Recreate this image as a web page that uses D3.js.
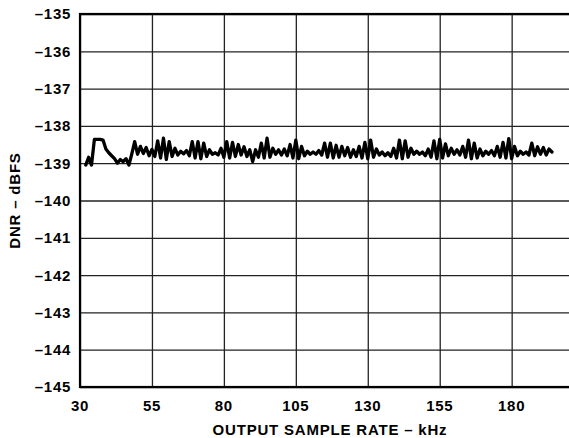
<!DOCTYPE html>
<html>
<head>
<meta charset="utf-8">
<script src="https://cdn.jsdelivr.net/npm/d3@7"></script>
<style>
  html, body { margin: 0; padding: 0; background: #fff; }
  svg { display: block; }
  text { font-family: "Liberation Sans", Arial, Helvetica, sans-serif; font-weight: bold; fill: #000; }
</style>
</head>
<body>
<svg id="chart" width="569" height="438"></svg>
<script>
// ---- data ----
const xTicks = [30, 55, 80, 105, 130, 155, 180];
const yTicks = [-145, -144, -143, -142, -141, -140, -139, -138, -137, -136, -135];
const xTitle = "OUTPUT SAMPLE RATE – kHz";
const yTitle = "DNR – dBFS";

const sampleRate = [
  32, 33, 34, 35, 36, 37, 38, 39, 40, 41, 42, 43, 44, 45, 46, 47, 48, 49, 50, 51,
  52, 53, 54, 55, 56, 57, 58, 59, 60, 61, 62, 63, 64, 65, 66, 67, 68, 69, 70, 71,
  72, 73, 74, 75, 76, 77, 78, 79, 80, 81, 82, 83, 84, 85, 86, 87, 88, 89, 90, 91,
  92, 93, 94, 95, 96, 97, 98, 99, 100, 101, 102, 103, 104, 105, 106, 107, 108, 109, 110, 111,
  112, 113, 114, 115, 116, 117, 118, 119, 120, 121, 122, 123, 124, 125, 126, 127, 128, 129, 130, 131,
  132, 133, 134, 135, 136, 137, 138, 139, 140, 141, 142, 143, 144, 145, 146, 147, 148, 149, 150, 151,
  152, 153, 154, 155, 156, 157, 158, 159, 160, 161, 162, 163, 164, 165, 166, 167, 168, 169, 170, 171,
  172, 173, 174, 175, 176, 177, 178, 179, 180, 181, 182, 183, 184, 185, 186, 187, 188, 189, 190, 191,
  192, 193, 194
];
const dnr = [
  -139.05, -138.84, -139.05, -138.36, -138.36, -138.36, -138.38, -138.62, -138.72, -138.80,
  -138.88, -139.00, -138.90, -138.96, -138.88, -139.05, -138.75, -138.42, -138.76, -138.55,
  -138.74, -138.58, -138.80, -138.63, -138.82, -138.40, -138.86, -138.33, -138.90, -138.42,
  -138.82, -138.60, -138.78, -138.68, -138.75, -138.66, -138.80, -138.42, -138.86, -138.42,
  -138.88, -138.46, -138.82, -138.64, -138.76, -138.72, -138.78, -138.60, -138.84, -138.42,
  -138.86, -138.44, -138.82, -138.50, -138.78, -138.56, -138.82, -138.64, -138.96, -138.64,
  -138.84, -138.46, -138.86, -138.33, -138.84, -138.60, -138.76, -138.64, -138.78, -138.62,
  -138.80, -138.50, -138.86, -138.38, -138.88, -138.55, -138.80, -138.68, -138.76, -138.70,
  -138.76, -138.66, -138.78, -138.46, -138.84, -138.46, -138.86, -138.52, -138.84, -138.55,
  -138.80, -138.58, -138.84, -138.64, -138.82, -138.55, -138.86, -138.44, -138.88, -138.38,
  -138.84, -138.62, -138.78, -138.70, -138.80, -138.72, -138.82, -138.60, -138.86, -138.38,
  -138.88, -138.40, -138.84, -138.60, -138.76, -138.68, -138.76, -138.70, -138.80, -138.62,
  -138.84, -138.40, -138.88, -138.36, -138.86, -138.48, -138.80, -138.60, -138.76, -138.64,
  -138.78, -138.55, -138.84, -138.38, -138.88, -138.46, -138.86, -138.62, -138.80, -138.68,
  -138.76, -138.66, -138.80, -138.55, -138.84, -138.44, -138.86, -138.34, -138.88, -138.55,
  -138.80, -138.68, -138.76, -138.70, -138.78, -138.46, -138.80, -138.56, -138.76, -138.58,
  -138.78, -138.62, -138.70
];

// ---- layout ----
const svg = d3.select("#chart");
const W = 569, H = 438;
const mLeft = 80, mTop = 14, mBottom = 387, mRight = 583.6;

const x = d3.scaleLinear().domain([30, 205]).range([mLeft, mRight]);
const y = d3.scaleLinear().domain([-145, -135]).range([mBottom, mTop]);

svg.append("rect").attr("width", W).attr("height", H).attr("fill", "#fff");

// grid
const gx = svg.append("g").attr("transform", `translate(0,${mBottom})`)
  .call(d3.axisBottom(x).tickValues(xTicks.concat([205])).tickSize(-(mBottom - mTop)).tickFormat(""));
gx.select(".domain").remove();
gx.selectAll("line").attr("stroke", "#222").attr("stroke-width", 1.3);

const gy = svg.append("g").attr("transform", `translate(${mLeft},0)`)
  .call(d3.axisLeft(y).tickValues(yTicks).tickSize(-(mRight - mLeft)).tickFormat(""));
gy.select(".domain").remove();
gy.selectAll("line").attr("stroke", "#222").attr("stroke-width", 1.3);

// frame
svg.append("rect")
  .attr("x", mLeft).attr("y", mTop)
  .attr("width", mRight - mLeft).attr("height", mBottom - mTop)
  .attr("fill", "none").attr("stroke", "#000").attr("stroke-width", 2.2);

// tick labels
svg.append("g").selectAll("text").data(yTicks).join("text")
  .attr("x", 71).attr("y", d => y(d)).attr("dy", "0.36em")
  .attr("text-anchor", "end").attr("font-size", 15).attr("letter-spacing", 0.7)
  .text(d => "\u2013" + Math.abs(d));

svg.append("g").selectAll("text").data(xTicks).join("text")
  .attr("x", d => x(d)).attr("y", 411)
  .attr("text-anchor", "middle").attr("font-size", 15).attr("letter-spacing", 0.7)
  .text(d => d);

// axis titles
svg.append("text").attr("x", 330).attr("y", 435)
  .attr("text-anchor", "middle").attr("font-size", 15).attr("letter-spacing", 0.8).text(xTitle);
svg.append("text")
  .attr("transform", `translate(20,${(mTop + mBottom) / 2}) rotate(-90)`)
  .attr("text-anchor", "middle").attr("font-size", 15).attr("letter-spacing", 0.8).text(yTitle);

// data line
const pts = sampleRate.map((r, i) => [r, dnr[i]]);
svg.append("path").datum(pts)
  .attr("fill", "none").attr("stroke", "#000").attr("stroke-width", 3.3)
  .attr("stroke-linejoin", "round").attr("stroke-linecap", "round")
  .attr("d", d3.line().x(d => x(d[0])).y(d => y(d[1])));
</script>
</body>
</html>
